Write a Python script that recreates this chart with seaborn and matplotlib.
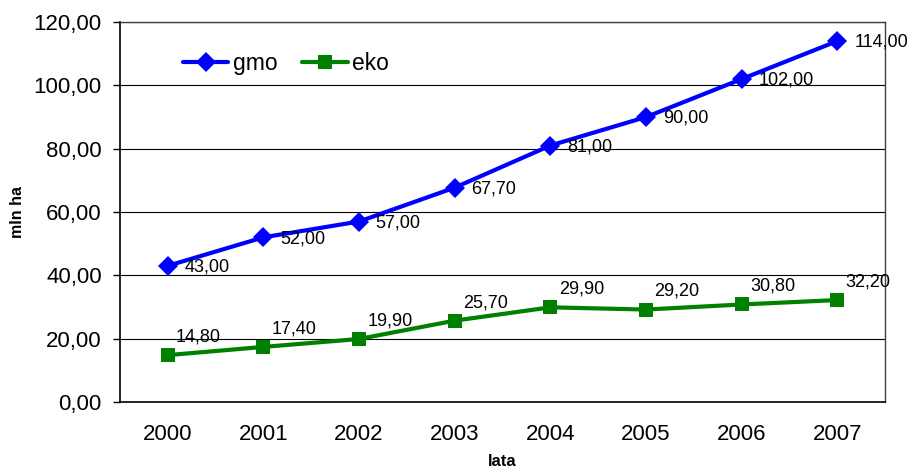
import pandas as pd
import matplotlib.pyplot as plt
import seaborn as sns
import numpy as np

years = ['2000', '2001', '2002', '2003', '2004', '2005', '2006', '2007']
gmo = [43.0, 52.0, 57.0, 67.7, 81.0, 90.0, 102.0, 114.0]
eko = [14.8, 17.4, 19.9, 25.7, 29.9, 29.2, 30.8, 32.2]

sns.set_style('white')
plt.rcParams['font.family'] = ['Liberation Sans', 'DejaVu Sans']
plt.rcParams['text.color'] = 'black'
plt.rcParams['axes.labelcolor'] = 'black'
plt.rcParams['xtick.color'] = 'black'
plt.rcParams['ytick.color'] = 'black'

df = pd.DataFrame({
    'rok': list(range(len(years))) * 2,
    'wartosc': gmo + eko,
    'seria': ['gmo'] * len(years) + ['eko'] * len(years),
})

fig, ax = plt.subplots(figsize=(9.08, 4.68), dpi=100)
fig.subplots_adjust(left=0.132, right=0.975, top=0.953, bottom=0.141)

sns.lineplot(data=df, x='rok', y='wartosc', hue='seria', style='seria',
             palette={'gmo': '#0000ff', 'eko': '#008000'},
             markers={'gmo': 'D', 'eko': 's'}, dashes=False,
             markersize=10.5, linewidth=3, markeredgewidth=0, ax=ax)

# etykiety danych
for i, v in enumerate(gmo):
    ax.annotate(f'{v:.2f}'.replace('.', ','), (i, v), xytext=(12, -1),
                textcoords='offset points', fontsize=13, va='center', ha='left')
for i, v in enumerate(eko):
    ax.annotate(f'{v:.2f}'.replace('.', ','), (i, v), xytext=(6, 13),
                textcoords='offset points', fontsize=13, va='center', ha='left')

ax.set_xlim(-0.5, len(years) - 0.5)
ax.set_ylim(0, 120)
ax.set_yticks(np.arange(0, 121, 20))
ax.set_yticklabels([f'{t:.2f}'.replace('.', ',') for t in np.arange(0, 121, 20)], fontsize=16)
ax.set_xticks(range(len(years)))
ax.set_xticklabels(years, fontsize=16)
ax.set_xticks(np.arange(-0.5, len(years)), minor=True)
ax.tick_params(axis='x', which='major', length=0, pad=16)
ax.tick_params(axis='x', which='minor', length=5, width=1, direction='out', color='black')
ax.tick_params(axis='y', length=5, width=1, direction='out', color='black', left=True, pad=8)

ax.yaxis.grid(True, color='black', linewidth=0.8)
ax.set_axisbelow(True)
for s in ['left', 'bottom']:
    ax.spines[s].set_color('black')
    ax.spines[s].set_linewidth(1.2)
for s in ['top', 'right']:
    ax.spines[s].set_color('#404040')
    ax.spines[s].set_linewidth(1)

ax.set_xlabel('lata', fontsize=12, fontweight='bold', labelpad=6)
ax.set_ylabel('mln ha', fontsize=11.5, fontweight='bold', labelpad=6)

ax.legend(loc='center left', bbox_to_anchor=(0.082, 0.89), ncol=2, frameon=False,
          fontsize=16.5, handlelength=2.0, columnspacing=1.05, handletextpad=0.2,
          borderaxespad=0, borderpad=0)

plt.savefig('out.png', dpi=100)
